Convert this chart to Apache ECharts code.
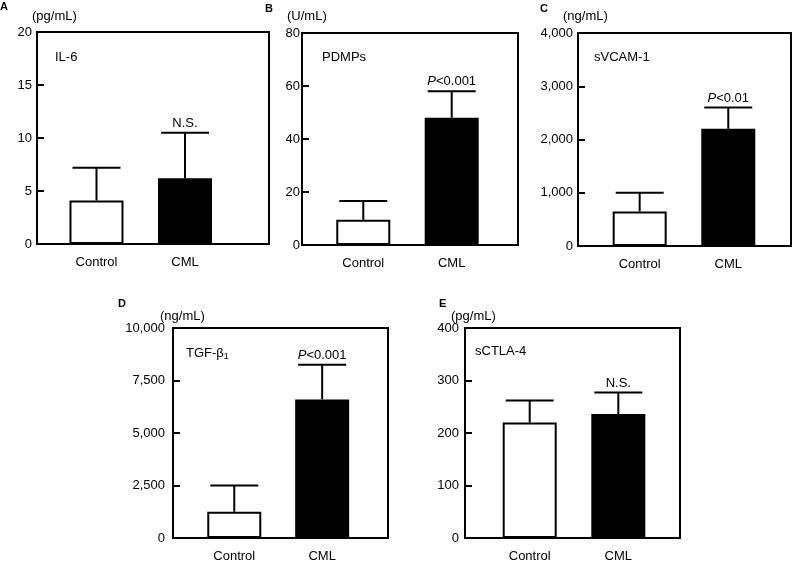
<!DOCTYPE html>
<html>
<head>
<meta charset="utf-8">
<script src="https://cdn.jsdelivr.net/npm/echarts@6/dist/echarts.min.js"></script>
<style>
  html, body { margin: 0; padding: 0; background: #fff; }
  #chart { width: 794px; height: 563px; }
</style>
</head>
<body>
<div id="chart"></div>
<script>
// groups on the x axis
var categories = ['Control', 'CML'];

// mean and SD for each panel (Control, CML)
var il6Mean = [4.1, 6.2];
var il6Sd = [3.1, 4.3];
var pdmpsMean = [9.5, 48];
var pdmpsSd = [7.1, 10];
var svcamMean = [650, 2200];
var svcamSd = [350, 400];
var tgfMean = [1250, 6600];
var tgfSd = [1250, 1650];
var sctlaMean = [220, 236];
var sctlaSd = [42, 41];

// significance marks above CML
var sigMarks = ['N.S.', '{i|P}<0.001', '{i|P}<0.01', '{i|P}<0.001', 'N.S.'];

// y axis ticks
var yMaxes = [20, 80, 4000, 10000, 400];
var yIntervals = [5, 20, 1000, 2500, 100];

var letters = ['A', 'B', 'C', 'D', 'E'];
var units = ['(pg/mL)', '(U/mL)', '(ng/mL)', '(ng/mL)', '(pg/mL)'];
var names = ['IL-6', 'PDMPs', 'sVCAM-1', 'TGF-β{s|1}', 'sCTLA-4'];

var means = [il6Mean, pdmpsMean, svcamMean, tgfMean, sctlaMean];
var sds = [il6Sd, pdmpsSd, svcamSd, tgfSd, sctlaSd];

// layout of each panel
var grids = [
  {left: 37, top: 32, width: 232, height: 212},
  {left: 302, top: 33, width: 216, height: 212},
  {left: 578, top: 33, width: 213, height: 213},
  {left: 173, top: 328, width: 215, height: 212},
  {left: 465, top: 328, width: 215, height: 212}
];
var xRanges = [[0.328, 2.949], [0.307, 2.75], [0.304, 2.708], [0.303, 2.749], [0.27, 2.696]];
var yLabelMargins = [5, 2, 5, 8, 6];
var letterPos = [[0, 1], [265, 3], [540, 3], [118, 298], [439, 298]];
var unitPos = [[32, 10], [287, 10], [563, 10], [160, 310], [451, 310]];
var namePos = [[55, 51], [322, 51], [594, 51], [186, 345], [475, 345]];

var font = 'Liberation Sans, Arial, sans-serif';

var chart = echarts.init(document.getElementById('chart'));

var option = {
  backgroundColor: '#fff',
  animation: false,
  title: [],
  grid: [],
  xAxis: [],
  yAxis: [],
  series: []
};

for (var p = 0; p < 5; p++) {
  var g = grids[p];
  option.grid.push({
    left: g.left, top: g.top, width: g.width, height: g.height,
    show: true, borderColor: '#000', borderWidth: 2, backgroundColor: 'transparent'
  });
  option.xAxis.push({
    type: 'value',
    gridIndex: p,
    min: xRanges[p][0],
    max: xRanges[p][1],
    splitLine: {show: false},
    axisTick: {show: false},
    axisLine: {show: true, lineStyle: {color: '#000', width: 2}},
    axisLabel: {
      customValues: [1, 2],
      margin: 12,
      color: '#000',
      fontSize: 13,
      fontFamily: font,
      formatter: function (v) { return categories[Math.round(v) - 1] || ''; }
    }
  });
  option.yAxis.push({
    type: 'value',
    gridIndex: p,
    min: 0,
    max: yMaxes[p],
    interval: yIntervals[p],
    splitLine: {show: false},
    axisLine: {show: true, lineStyle: {color: '#000', width: 2}},
    axisTick: {show: true, inside: true, length: 7, lineStyle: {color: '#000', width: 2}},
    axisLabel: {
      margin: yLabelMargins[p],
      color: '#000',
      fontSize: 13,
      fontFamily: font,
      formatter: function (v) { return v.toLocaleString('en-US'); }
    }
  });

  var barData = [];
  var errData = [];
  for (var i = 0; i < categories.length; i++) {
    barData.push({
      value: [i + 1, means[p][i]],
      itemStyle: {color: i === 0 ? '#fff' : '#000', borderColor: '#000', borderWidth: 2}
    });
    errData.push([i + 1, means[p][i], sds[p][i]]);
  }
  option.series.push({
    type: 'bar',
    xAxisIndex: p,
    yAxisIndex: p,
    barWidth: 54,
    data: barData
  });
  option.series.push({
    type: 'custom',
    xAxisIndex: p,
    yAxisIndex: p,
    z: 3,
    data: errData,
    renderItem: (function (sig) {
      return function (params, api) {
        var x = api.value(0), m = api.value(1), sd = api.value(2);
        var base = api.coord([x, m]);
        var top = api.coord([x, m + sd]);
        var lineStyle = {stroke: '#000', lineWidth: 2};
        var children = [
          {type: 'line', shape: {x1: base[0], y1: base[1], x2: top[0], y2: top[1]}, style: lineStyle},
          {type: 'line', shape: {x1: top[0] - 24, y1: top[1], x2: top[0] + 24, y2: top[1]}, style: lineStyle}
        ];
        if (params.dataIndex === 1) {
          children.push({
            type: 'text',
            x: top[0],
            y: top[1] - 3,
            style: {
              text: sig,
              fill: '#000',
              fontSize: 13,
              fontFamily: font,
              align: 'center',
              verticalAlign: 'bottom',
              rich: {i: {fontStyle: 'italic', fontSize: 13, fontFamily: font}}
            }
          });
        }
        return {type: 'group', children: children};
      };
    })(sigMarks[p])
  });

  option.title.push({
    text: letters[p], left: letterPos[p][0], top: letterPos[p][1], padding: 0,
    textStyle: {fontSize: 11, fontWeight: 'bold', color: '#000', fontFamily: font}
  });
  option.title.push({
    text: units[p], left: unitPos[p][0], top: unitPos[p][1], padding: 0,
    textStyle: {fontSize: 13, fontWeight: 'normal', color: '#000', fontFamily: font}
  });
  option.title.push({
    text: names[p], left: namePos[p][0], top: namePos[p][1], padding: 0,
    textStyle: {
      fontSize: 13, fontWeight: 'normal', color: '#000', fontFamily: font,
      rich: {s: {fontSize: 9, fontFamily: font, color: '#000', padding: [7, 0, 0, 0]}}
    }
  });
}

chart.setOption(option);
</script>
</body>
</html>
